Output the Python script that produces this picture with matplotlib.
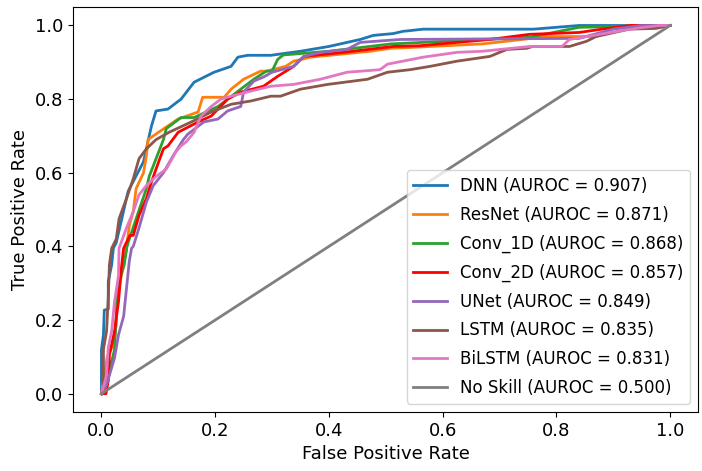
import matplotlib
matplotlib.use('Agg')
import matplotlib.pyplot as plt

# ROC curve points (fpr, tpr)
dnn_fpr = [0, 0, 0.0035, 0.005, 0.012, 0.012, 0.018, 0.021, 0.026, 0.047, 0.074, 0.084, 0.088, 0.096,
           0.117, 0.14, 0.163, 0.198, 0.228, 0.24, 0.257, 0.298, 0.35, 0.40, 0.455, 0.478, 0.513, 0.53,
           0.566, 0.76, 0.84, 1.0]
dnn_tpr = [0, 0.12, 0.16, 0.227, 0.23, 0.305, 0.35, 0.395, 0.41, 0.55, 0.63, 0.70, 0.727, 0.768,
           0.773, 0.80, 0.846, 0.873, 0.889, 0.914, 0.919, 0.919, 0.93, 0.943, 0.962, 0.973, 0.978, 0.984,
           0.99, 0.99, 1.0, 1.0]

resnet_fpr = [0, 0.005, 0.01, 0.02, 0.026, 0.026, 0.03, 0.04, 0.044, 0.049, 0.056, 0.061, 0.074, 0.079,
              0.082, 0.091, 0.11, 0.135, 0.17, 0.178, 0.216, 0.228, 0.25, 0.28, 0.29, 0.324, 0.338, 0.368,
              0.473, 0.508, 0.54, 0.67, 0.74, 0.78, 0.87, 0.905, 0.95, 1.0]
resnet_tpr = [0, 0.05, 0.10, 0.13, 0.186, 0.24, 0.28, 0.36, 0.395, 0.457, 0.495, 0.557, 0.60, 0.646,
              0.69, 0.70, 0.72, 0.746, 0.765, 0.805, 0.805, 0.827, 0.854, 0.876, 0.876, 0.889, 0.903, 0.914,
              0.93, 0.938, 0.94, 0.95, 0.962, 0.97, 0.97, 0.997, 1.0, 1.0]

conv1d_fpr = [0, 0.005, 0.01, 0.02, 0.023, 0.026, 0.03, 0.04, 0.045, 0.049, 0.061, 0.079, 0.084, 0.096,
              0.109, 0.114, 0.14, 0.163, 0.205, 0.245, 0.268, 0.29, 0.30, 0.31, 0.32, 0.40, 0.455, 0.51,
              0.753, 0.84, 1.0]
conv1d_tpr = [0, 0.02, 0.05, 0.10, 0.12, 0.21, 0.30, 0.35, 0.40, 0.42, 0.475, 0.557, 0.59, 0.638,
              0.69, 0.72, 0.75, 0.75, 0.78, 0.827, 0.854, 0.876, 0.876, 0.908, 0.92, 0.93, 0.94, 0.95,
              0.968, 0.995, 1.0]

conv2d_fpr = [0, 0.008, 0.012, 0.014, 0.023, 0.03, 0.035, 0.039, 0.05, 0.056, 0.066, 0.079, 0.088,
              0.096, 0.109, 0.117, 0.135, 0.17, 0.193, 0.222, 0.245, 0.285, 0.31, 0.338, 0.356, 0.426,
              0.513, 0.56, 0.683, 0.753, 0.84, 0.88, 0.93, 1.0]
conv2d_tpr = [0, 0.0, 0.035, 0.105, 0.17, 0.25, 0.34, 0.395, 0.43, 0.43, 0.484, 0.53, 0.575,
              0.61, 0.665, 0.673, 0.71, 0.738, 0.754, 0.80, 0.819, 0.835, 0.862, 0.889, 0.916, 0.927,
              0.943, 0.945, 0.962, 0.976, 0.981, 0.99, 1.0, 1.0]

unet_fpr = [0, 0.008, 0.014, 0.023, 0.03, 0.039, 0.044, 0.049, 0.053, 0.056, 0.066, 0.079, 0.091,
            0.109, 0.126, 0.144, 0.152, 0.18, 0.205, 0.222, 0.245, 0.25, 0.268, 0.285, 0.30, 0.338,
            0.356, 0.385, 0.432, 0.455, 0.525, 0.84, 0.90, 0.95, 1.0]
unet_tpr = [0, 0.02, 0.05, 0.097, 0.16, 0.21, 0.285, 0.36, 0.395, 0.40, 0.45, 0.52, 0.565,
            0.60, 0.646, 0.69, 0.705, 0.738, 0.746, 0.768, 0.78, 0.819, 0.849, 0.86, 0.873, 0.889,
            0.916, 0.927, 0.935, 0.954, 0.962, 0.965, 0.99, 1.0, 1.0]

lstm_fpr = [0, 0.0035, 0.0035, 0.009, 0.012, 0.014, 0.018, 0.026, 0.031, 0.044, 0.056, 0.066, 0.079,
            0.096, 0.119, 0.158, 0.193, 0.228, 0.263, 0.298, 0.315, 0.35, 0.398, 0.468, 0.503,
            0.543, 0.578, 0.625, 0.683, 0.713, 0.748, 0.758, 0.823, 0.853, 0.87, 0.928, 0.975, 1.0]
lstm_tpr = [0, 0.015, 0.12, 0.17, 0.26, 0.35, 0.395, 0.42, 0.475, 0.53, 0.584, 0.638, 0.665,
            0.69, 0.71, 0.738, 0.765, 0.786, 0.795, 0.808, 0.808, 0.827, 0.84, 0.854, 0.873,
            0.88, 0.889, 0.903, 0.916, 0.935, 0.938, 0.943, 0.943, 0.957, 0.97, 0.99, 0.992, 1.0]

bilstm_fpr = [0, 0.003, 0.009, 0.012, 0.018, 0.023, 0.03, 0.031, 0.044, 0.056, 0.066, 0.079, 0.096,
              0.114, 0.131, 0.14, 0.149, 0.163, 0.175, 0.193, 0.21, 0.228, 0.263, 0.298, 0.338,
              0.385, 0.432, 0.49, 0.503, 0.566, 0.625, 0.67, 0.753, 0.81, 0.823, 0.93, 0.98, 1.0]
bilstm_tpr = [0, 0.015, 0.05, 0.125, 0.17, 0.25, 0.32, 0.395, 0.45, 0.495, 0.54, 0.565, 0.59,
              0.61, 0.657, 0.673, 0.684, 0.71, 0.754, 0.78, 0.80, 0.808, 0.822, 0.835, 0.84,
              0.854, 0.873, 0.88, 0.895, 0.914, 0.927, 0.93, 0.943, 0.943, 0.962, 0.99, 1.0, 1.0]

noskill_fpr = [0, 1]
noskill_tpr = [0, 1]

names = ['DNN', 'ResNet', 'Conv_1D', 'Conv_2D', 'UNet', 'LSTM', 'BiLSTM', 'No Skill']
aurocs = [0.907, 0.871, 0.868, 0.857, 0.849, 0.835, 0.831, 0.500]
colors = ['tab:blue', 'tab:orange', 'tab:green', 'red', 'tab:purple', 'tab:brown', 'tab:pink', 'tab:gray']
curves = [(dnn_fpr, dnn_tpr), (resnet_fpr, resnet_tpr), (conv1d_fpr, conv1d_tpr),
          (conv2d_fpr, conv2d_tpr), (unet_fpr, unet_tpr), (lstm_fpr, lstm_tpr),
          (bilstm_fpr, bilstm_tpr), (noskill_fpr, noskill_tpr)]

fig, ax = plt.subplots(figsize=(7.02, 4.71), dpi=100)
fig.subplots_adjust(left=0.104, right=0.995, top=0.985, bottom=0.125)

for (fpr, tpr), name, auc, c in zip(curves, names, aurocs, colors):
    ax.plot(fpr, tpr, color=c, linewidth=2, label=f'{name} (AUROC = {auc:.3f})')

ax.set_xlabel('False Positive Rate', fontsize=13)
ax.set_ylabel('True Positive Rate', fontsize=13)
ax.tick_params(labelsize=13)
ax.legend(loc='lower right', fontsize=12, labelspacing=0.65)

plt.savefig('out.png', dpi=100)
